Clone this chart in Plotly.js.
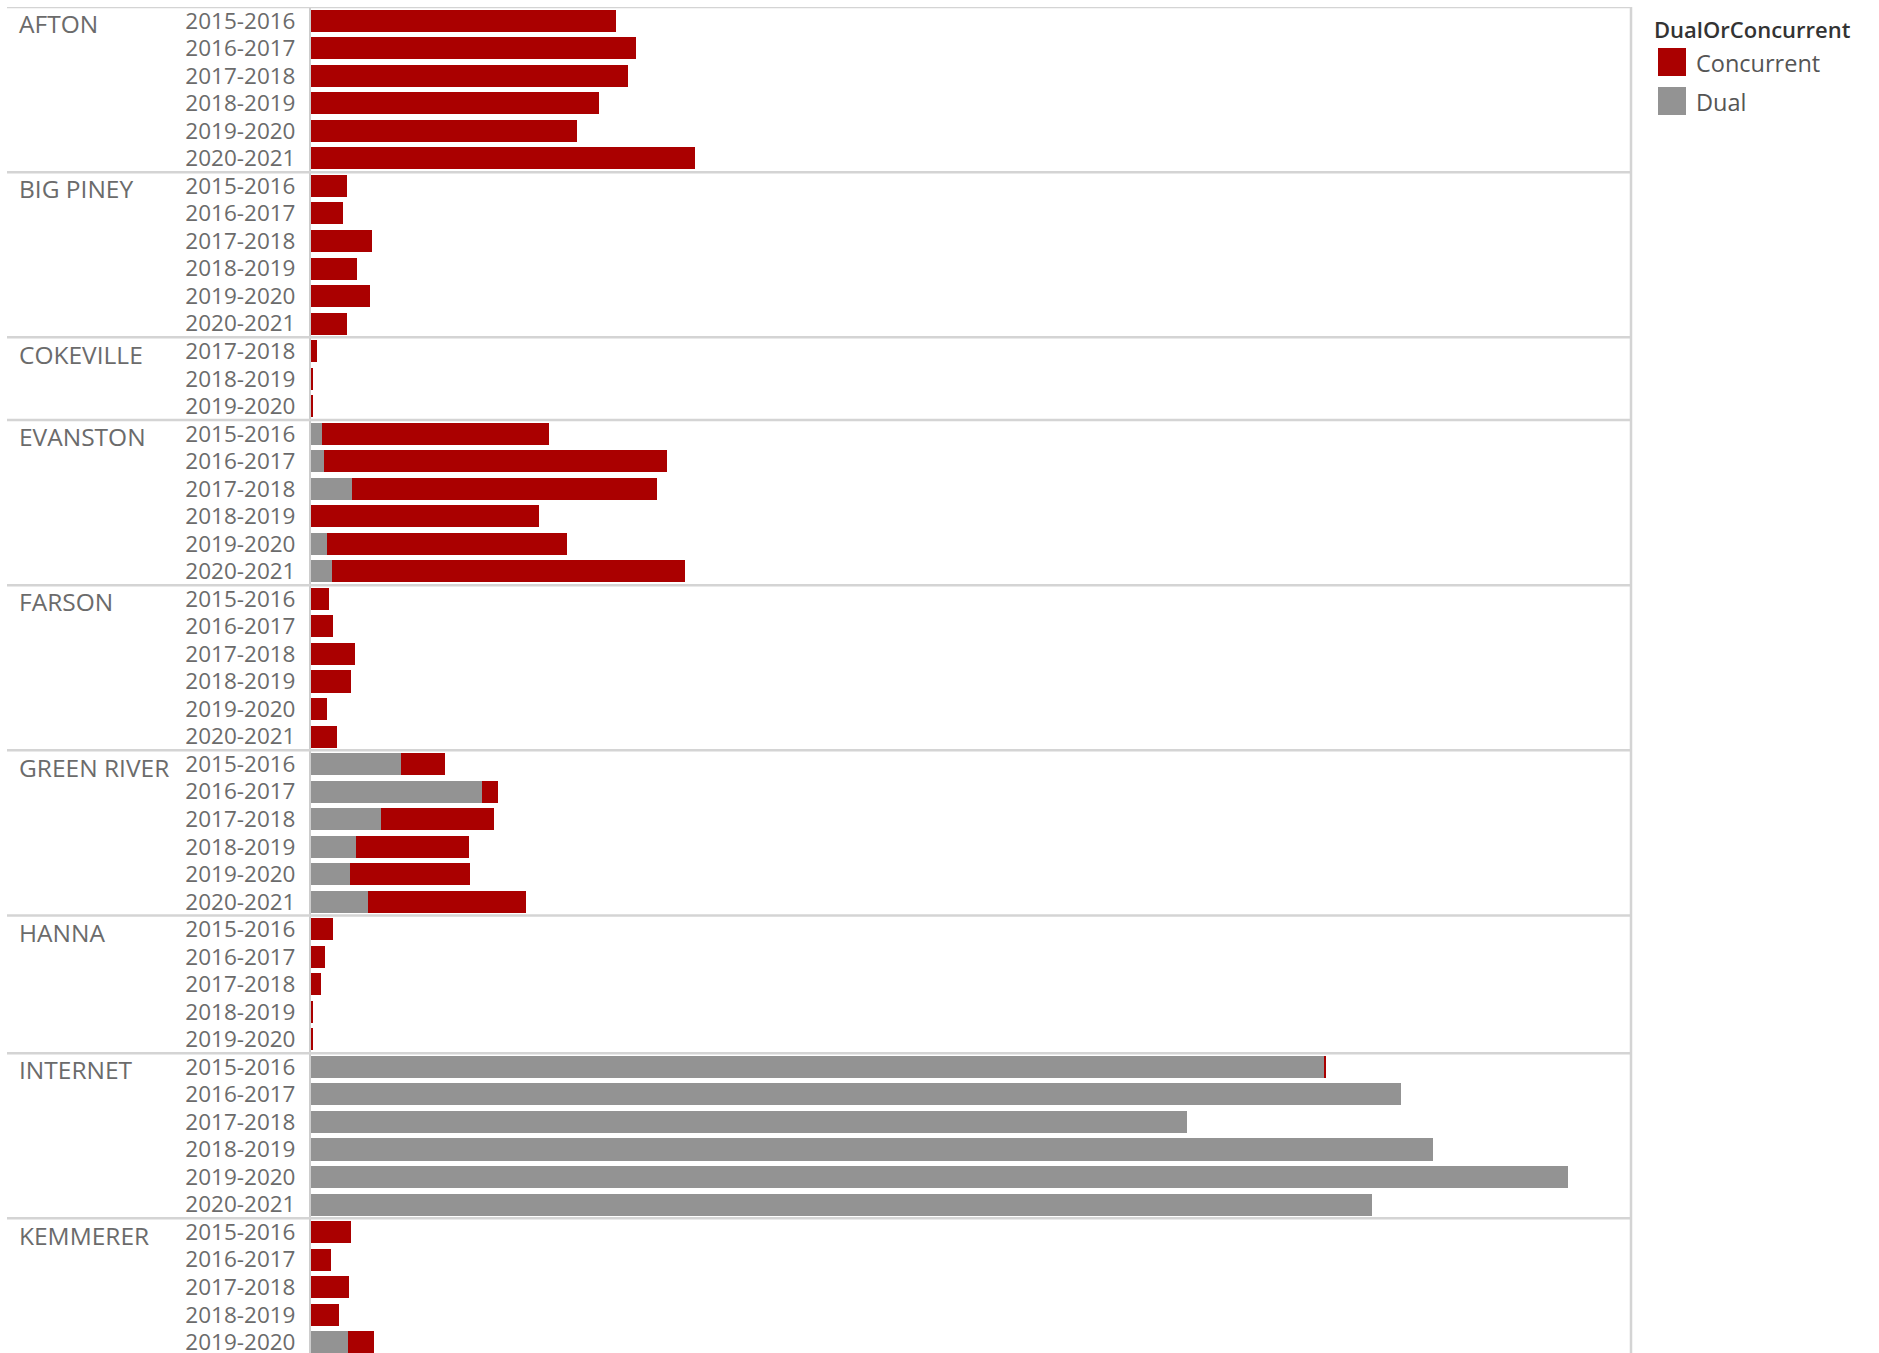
<!DOCTYPE html>
<html>
<head>
<meta charset="utf-8">
<script src="https://cdn.plot.ly/plotly-3.0.1.min.js"></script>
<style>
html, body { margin: 0; padding: 0; background: #ffffff; }
#chart { width: 1879px; height: 1353px; }
</style>
</head>
<body>
<div id="chart"></div>
<script>
// ---- data ----
const schools = ["AFTON", "BIG PINEY", "COKEVILLE", "EVANSTON", "FARSON", "GREEN RIVER", "HANNA", "INTERNET", "KEMMERER"];

const aftonYears      = ["2015-2016", "2016-2017", "2017-2018", "2018-2019", "2019-2020", "2020-2021"];
const bigPineyYears   = ["2015-2016", "2016-2017", "2017-2018", "2018-2019", "2019-2020", "2020-2021"];
const cokevilleYears  = ["2017-2018", "2018-2019", "2019-2020"];
const evanstonYears   = ["2015-2016", "2016-2017", "2017-2018", "2018-2019", "2019-2020", "2020-2021"];
const farsonYears     = ["2015-2016", "2016-2017", "2017-2018", "2018-2019", "2019-2020", "2020-2021"];
const greenRiverYears = ["2015-2016", "2016-2017", "2017-2018", "2018-2019", "2019-2020", "2020-2021"];
const hannaYears      = ["2015-2016", "2016-2017", "2017-2018", "2018-2019", "2019-2020"];
const internetYears   = ["2015-2016", "2016-2017", "2017-2018", "2018-2019", "2019-2020", "2020-2021"];
const kemmererYears   = ["2015-2016", "2016-2017", "2017-2018", "2018-2019", "2019-2020"];

const aftonDual       = [0, 0, 0, 0, 0, 0];
const aftonConc       = [305, 325, 317, 288, 266, 384];
const bigPineyDual    = [0, 0, 0, 0, 0, 0];
const bigPineyConc    = [36, 32, 61, 46, 59, 36];
const cokevilleDual   = [0, 0, 0];
const cokevilleConc   = [6, 2, 2];
const evanstonDual    = [11, 13, 41, 0, 16, 21];
const evanstonConc    = [227, 343, 305, 228, 240, 353];
const farsonDual      = [0, 0, 0, 0, 0, 0];
const farsonConc      = [18, 22, 44, 40, 16, 26];
const greenRiverDual  = [90, 171, 70, 45, 39, 57];
const greenRiverConc  = [44, 16, 113, 113, 120, 158];
const hannaDual       = [0, 0, 0, 0, 0];
const hannaConc       = [22, 14, 10, 2, 2];
const internetDual    = [1013, 1090, 876, 1122, 1257, 1061];
const internetConc    = [2, 0, 0, 0, 0, 0];
const kemmererDual    = [0, 0, 0, 0, 37];
const kemmererConc    = [40, 20, 38, 28, 26];

const yearsBySchool = [aftonYears, bigPineyYears, cokevilleYears, evanstonYears, farsonYears, greenRiverYears, hannaYears, internetYears, kemmererYears];
const dualBySchool  = [aftonDual, bigPineyDual, cokevilleDual, evanstonDual, farsonDual, greenRiverDual, hannaDual, internetDual, kemmererDual];
const concBySchool  = [aftonConc, bigPineyConc, cokevilleConc, evanstonConc, farsonConc, greenRiverConc, hannaConc, internetConc, kemmererConc];

const legendTitle = "DualOrConcurrent";
const seriesNames = ["Concurrent", "Dual"];
const RED = "#aa0000", GREY = "#939393";

// ---- build rows ----
const rowKeys = [], rowYears = [], dualVals = [], concVals = [];
const sectionStart = [];
schools.forEach((s, i) => {
  sectionStart.push(rowKeys.length);
  yearsBySchool[i].forEach((yr, j) => {
    rowKeys.push(s + " | " + yr);
    rowYears.push(yr);
    dualVals.push(dualBySchool[i][j]);
    concVals.push(concBySchool[i][j]);
  });
});

// ---- geometry helpers (figure pixels) ----
const W = 1879, H = 1353;
const M = { l: 311, r: 248, t: 7, b: 0 };
const plotW = W - M.l - M.r, plotH = H - M.t - M.b;
const rowPitch = 27.53;
const px2x = px => (px - M.l) / plotW;
const px2y = py => 1 - (py - M.t) / plotH;
const yBottom = plotH / rowPitch - 0.5;

const FONT = "Open Sans, Noto Sans, sans-serif";

const traces = [
  { type: "bar", orientation: "h", name: seriesNames[1], y: rowKeys, x: dualVals,
    marker: { color: GREY, line: { width: 0 } }, hoverinfo: "x+name" },
  { type: "bar", orientation: "h", name: seriesNames[0], y: rowKeys, x: concVals,
    marker: { color: RED, line: { width: 0 } }, hoverinfo: "x+name" }
];

const shapes = [];
const annotations = [];
const divColor = "#d4d4d4";
// top line + section dividers
sectionStart.forEach((st) => {
  shapes.push({ type: "line", xref: "paper", yref: "y", x0: px2x(7), x1: 1, y0: st - 0.5, y1: st - 0.5,
    line: { color: divColor, width: 2.5 } });
});
// right border
shapes.push({ type: "line", xref: "paper", yref: "paper", x0: 1, x1: 1, y0: 0, y1: 1,
  line: { color: divColor, width: 2.5 } });

// school labels
schools.forEach((s, i) => {
  annotations.push({ xref: "paper", yref: "y", x: px2x(17), y: sectionStart[i], xanchor: "left", yanchor: "middle",
    yshift: -3, text: s, showarrow: false, font: { family: FONT, size: 24.5, color: "#6b6b6b" } });
});

// legend (drawn manually)
annotations.push({ xref: "paper", yref: "paper", x: px2x(1652), y: px2y(12), xanchor: "left", yanchor: "top",
  text: legendTitle, showarrow: false, font: { family: FONT, size: 22, color: "#333333", weight: 600 } });
const legendItems = [[seriesNames[0], RED, 48], [seriesNames[1], GREY, 87]];
legendItems.forEach(([name, col, top]) => {
  shapes.push({ type: "rect", xref: "paper", yref: "paper", x0: px2x(1658), x1: px2x(1686), y0: px2y(top), y1: px2y(top + 28),
    fillcolor: col, line: { width: 0 } });
  annotations.push({ xref: "paper", yref: "paper", x: px2x(1694), y: px2y(top + 15), xanchor: "left", yanchor: "middle",
    text: name, showarrow: false, font: { family: FONT, size: 23.5, color: "#555555" } });
});

const layout = {
  width: W, height: H,
  margin: { l: M.l, r: M.r, t: M.t, b: M.b, pad: 0 },
  paper_bgcolor: "#ffffff", plot_bgcolor: "#ffffff",
  barmode: "stack", bargap: 0.2,
  showlegend: false,
  xaxis: { range: [0, plotW], showgrid: false, zeroline: false, showticklabels: false, showline: false, fixedrange: true },
  yaxis: {
    type: "category", categoryorder: "array", categoryarray: rowKeys,
    range: [yBottom, -0.5],
    tickmode: "array", tickvals: rowKeys, ticktext: rowYears,
    showgrid: false, zeroline: false, showline: true, linecolor: "#cdcdcd", linewidth: 2,
    ticks: "", ticklabelstandoff: 9,
    tickfont: { family: FONT, size: 22.5, color: "#6b6b6b" }, fixedrange: true
  },
  shapes: shapes,
  annotations: annotations,
  font: { family: FONT }
};

Plotly.newPlot("chart", traces, layout, { displayModeBar: false, responsive: false });
</script>
</body>
</html>
